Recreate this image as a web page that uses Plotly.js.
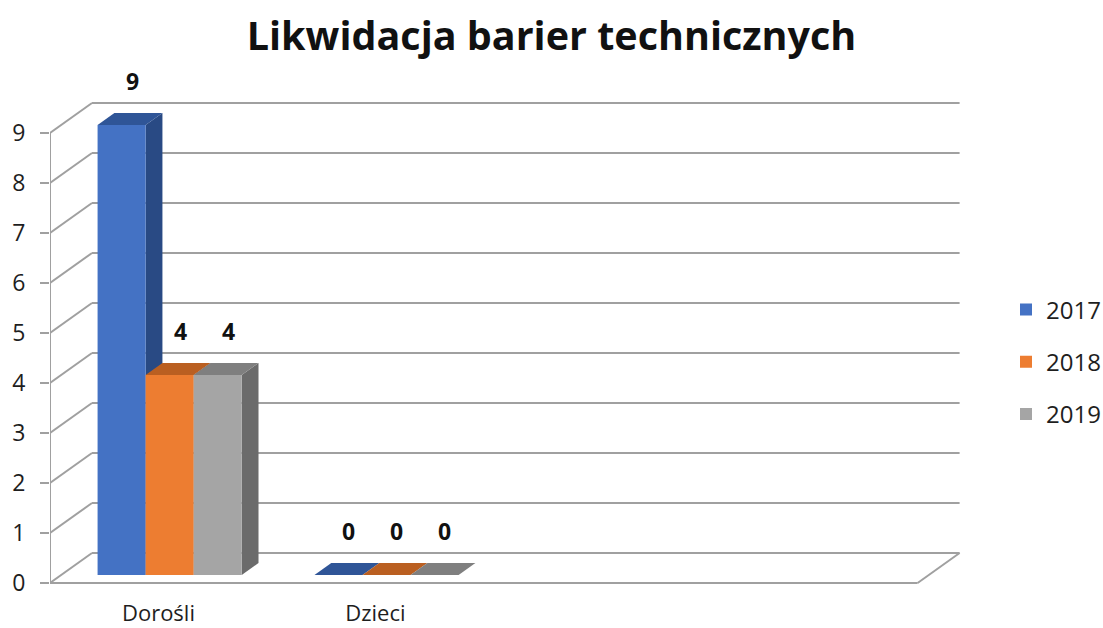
<!DOCTYPE html>
<html>
<head>
<meta charset="utf-8">
<script src="https://cdn.plot.ly/plotly-3.0.1.min.js"></script>
<style>html,body{margin:0;padding:0;background:#fff;}#chart{width:1103px;height:628px;}</style>
</head>
<body>
<div id="chart"></div>
<script>
// ---- data ----
const categories = ['Dorośli', 'Dzieci', '', ''];
const years = ['2017', '2018', '2019'];
const v2017 = [9, 0, null, null];
const v2018 = [4, 0, null, null];
const v2019 = [4, 0, null, null];
const yTicks = [0, 1, 2, 3, 4, 5, 6, 7, 8, 9];
const chartTitle = 'Likwidacja barier technicznych';

// ---- styles / geometry ----
const series = [v2017, v2018, v2019];
const frontCol = ['#4472C4', '#ED7D31', '#A5A5A5'];
const topCol = ['#2F5597', '#BA5F21', '#7F7F7F'];
const sideCol = ['#294A84', '#A3541D', '#6B6B6B'];
const gridCol = '#A0A0A0';
const txtCol = '#1E1E1E';
const FONT = '"Open Sans", "Noto Sans", sans-serif';

const pxPerCat = 216.9, pxPerUnit = 50;
const depthX = 42 / pxPerCat, depthY = 30 / pxPerUnit;   // wall depth
const frontFrac = 8 / 30, barFrac = 0.4;
const fx = depthX * frontFrac, fy = depthY * frontFrac;   // bar front plane offset
const bx = depthX * barFrac, by = depthY * barFrac;       // bar depth
const barW = 0.2215, groupW = barW * series.length;
const nCat = categories.length;
const yMax = yTicks[yTicks.length - 1];
const plotW = 914;
const xRange = [0, plotW / pxPerCat];
const yRange = [-0.04, 9.64];

const traces = [];
const shapes = [];
const annotations = [];

// back wall & floor
const lineStyle = {color: gridCol, width: 2};
yTicks.forEach(v => {
  shapes.push({type: 'line', layer: 'below', xref: 'x', yref: 'y', x0: depthX, y0: v + depthY, x1: nCat + depthX, y1: v + depthY, line: lineStyle});
  shapes.push({type: 'line', layer: 'below', xref: 'x', yref: 'y', x0: 0, y0: v, x1: depthX, y1: v + depthY, line: lineStyle});
});
shapes.push({type: 'line', layer: 'below', xref: 'x', yref: 'y', x0: 0, y0: 0, x1: 0, y1: yMax, line: lineStyle});
shapes.push({type: 'line', layer: 'below', xref: 'x', yref: 'y', x0: 0, y0: 0, x1: nCat, y1: 0, line: lineStyle});
shapes.push({type: 'line', layer: 'below', xref: 'x', yref: 'y', x0: nCat, y0: 0, x1: nCat + depthX, y1: depthY, line: lineStyle});

function poly(pts) {
  return 'M' + pts.map(p => p[0].toFixed(5) + ',' + p[1].toFixed(5)).join('L') + 'Z';
}

series.forEach((vals, i) => {
  const xs = [], ys = [];
  vals.forEach((v, j) => {
    if (v === null) return;
    xs.push(j + 0.5 + fx);
    ys.push(v);
    const x0 = j + 0.5 + fx - groupW / 2 + i * barW;
    const x1 = x0 + barW;
    const y0 = fy, y1 = fy + v;
    // side face
    shapes.push({type: 'path', layer: 'below', xref: 'x', yref: 'y',
      path: poly([[x1, y0], [x1, y1], [x1 + bx, y1 + by], [x1 + bx, y0 + by]]),
      fillcolor: sideCol[i], line: {width: 0}});
    // top face
    shapes.push({type: 'path', layer: 'below', xref: 'x', yref: 'y',
      path: poly([[x0, y1], [x1, y1], [x1 + bx, y1 + by], [x0 + bx, y1 + by]]),
      fillcolor: topCol[i], line: {width: 0}});
    annotations.push({xref: 'x', yref: 'y', x: (x0 + x1) / 2 + bx / 2 + 2 / pxPerCat, y: y1 + by,
      text: '<b>' + String(v) + '</b>', showarrow: false, yanchor: 'bottom', yshift: 14,
      font: {family: FONT, size: 23, color: '#111'}});
  });
  traces.push({
    type: 'bar', name: years[i], legendgroup: years[i],
    x: xs, y: ys, base: fy, width: barW, offset: -groupW / 2 + i * barW,
    marker: {color: frontCol[i], line: {width: 0}},
    hoverinfo: 'skip'
  });
});

const layout = {
  width: 1103, height: 628,
  margin: {l: 50, r: 1103 - 50 - plotW, t: 101, b: 43, autoexpand: false},
  paper_bgcolor: '#ffffff', plot_bgcolor: 'rgba(0,0,0,0)',
  barmode: 'overlay',
  title: {text: '<b>' + chartTitle + '</b>', x: 0.5, xref: 'container', xanchor: 'center',
    y: 1 - 36 / 628, yref: 'container', yanchor: 'middle',
    font: {family: FONT, size: 39.5, color: '#111'}},
  xaxis: {range: xRange, tickvals: categories.map((c, j) => j + 0.5), ticktext: categories,
    ticks: '', showgrid: false, zeroline: false, showline: false, ticklabelstandoff: 13,
    tickfont: {family: FONT, size: 22, color: txtCol}, fixedrange: true},
  xaxis2: {range: xRange, overlaying: 'x', anchor: 'y', side: 'bottom',
    tickvals: categories.map((c, j) => j).concat([nCat]), showticklabels: false,
    ticks: 'outside', ticklen: 9, tickwidth: 2, tickcolor: gridCol,
    showgrid: false, zeroline: false, showline: false},
  yaxis: {range: yRange, tickvals: yTicks, ticks: 'outside', ticklen: 9, tickwidth: 2, tickcolor: gridCol,
    showgrid: false, zeroline: false, showline: false, ticklabelstandoff: 10,
    tickfont: {family: FONT, size: 23, color: txtCol}, fixedrange: true},
  legend: {x: (1006 - 50) / plotW, xanchor: 'left', y: (585 - 362) / 484, yanchor: 'middle',
    font: {family: FONT, size: 24, color: txtCol}, tracegroupgap: 18, bgcolor: 'rgba(0,0,0,0)'},
  showlegend: true,
  shapes: shapes,
  annotations: annotations
};

Plotly.newPlot('chart', traces, layout, {displayModeBar: false, staticPlot: true});
</script>
</body>
</html>
